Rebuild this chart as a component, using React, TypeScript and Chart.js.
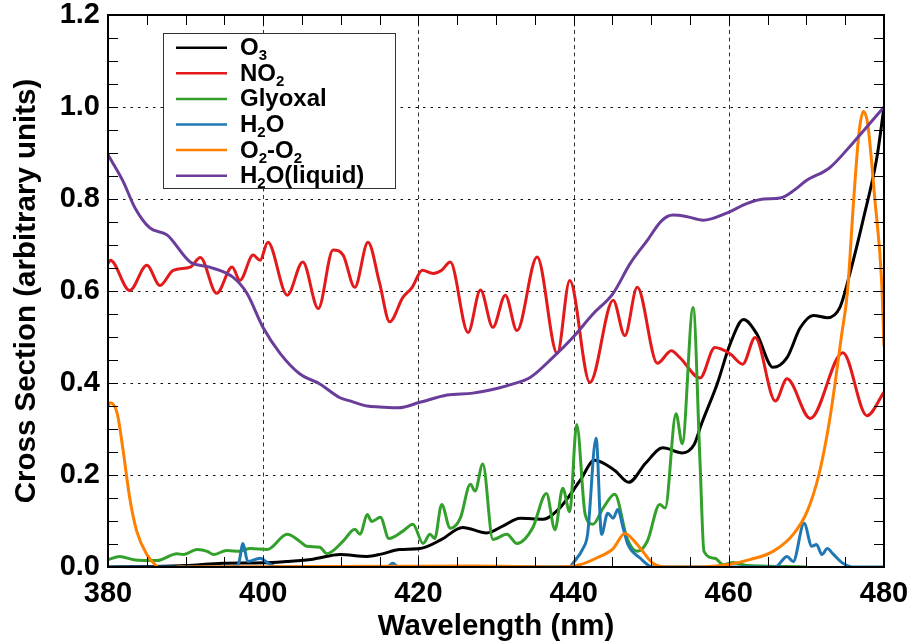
import React, { useEffect, useRef } from 'react';
import { Chart, registerables } from 'chart.js';

Chart.register(...registerables);

// ---------- data ----------
const xTicks = [380, 400, 420, 440, 460, 480];
const yTicks = [0, 0.2, 0.4, 0.6, 0.8, 1.0, 1.2];

const o3Wl = [380, 385, 390, 394.8, 400, 403, 406.4, 409.9, 413.4, 415.2, 417.6, 420.2, 423, 425.7, 428.8, 431, 433.1, 436.1, 438.2, 440.8, 442.7, 445.3, 447.1, 449.3, 451.5, 454.0, 455.5, 456.5, 458.5, 460.2, 461.9, 463.6, 465.7, 467.5, 469.2, 470.9, 472.7, 474.3, 475.6, 477.3, 479.1, 480];
const o3Val = [0.0, 0.001, 0.003, 0.008, 0.009, 0.012, 0.017, 0.027, 0.023, 0.028, 0.038, 0.04, 0.06, 0.086, 0.074, 0.09, 0.106, 0.104, 0.128, 0.187, 0.232, 0.21, 0.184, 0.226, 0.259, 0.248, 0.265, 0.312, 0.398, 0.486, 0.538, 0.507, 0.434, 0.455, 0.52, 0.547, 0.542, 0.564, 0.638, 0.754, 0.892, 1.0];

const no2Wl = [380, 380.3, 382.8, 385, 386.7, 388.4, 390.6, 391.9, 394, 396, 397, 398.7, 399.6, 400.6, 403.1, 405.1, 407.1, 409, 410.3, 411.8, 413.5, 415, 416.3, 418, 419.2, 420.5, 421.9, 423, 424.1, 426.4, 428, 429.6, 431.2, 432.7, 435.3, 437.9, 439.5, 442.1, 445.1, 446.6, 448.2, 450.8, 452.6, 453.7, 456.3, 458.2, 460.2, 461.8, 463.4, 466, 467.5, 470.5, 474.7, 477.8, 480];
const no2Val = [0.66, 0.667, 0.601, 0.656, 0.612, 0.645, 0.652, 0.673, 0.595, 0.652, 0.623, 0.678, 0.667, 0.706, 0.591, 0.663, 0.562, 0.689, 0.678, 0.608, 0.706, 0.617, 0.533, 0.586, 0.608, 0.645, 0.638, 0.645, 0.663, 0.51, 0.602, 0.521, 0.591, 0.514, 0.674, 0.464, 0.623, 0.401, 0.58, 0.503, 0.608, 0.443, 0.47, 0.455, 0.411, 0.477, 0.463, 0.441, 0.499, 0.361, 0.409, 0.323, 0.466, 0.329, 0.38];

const glyWl = [380, 381.5, 383.3, 386.3, 388.9, 389.7, 391.5, 392.8, 393.6, 395.3, 397, 398.3, 400.5, 403.1, 404.7, 405.6, 407.3, 408.2, 410.3, 411.8, 412.5, 413.4, 414, 415.1, 416.2, 418, 419.3, 420.6, 421.5, 422.1, 423, 424.1, 425.4, 426.7, 427.3, 428.3, 429.6, 431.4, 432.7, 434.7, 436.5, 437.6, 438.6, 439.5, 440.4, 441.5, 442.5, 443.8, 445.3, 446.9, 448.2, 449.5, 451.1, 451.8, 453.2, 454.0, 455.4, 456.3, 456.8, 458.2, 459.3, 460.5, 462.3, 467.5, 470];
const glyVal = [0.016, 0.023, 0.016, 0.014, 0.029, 0.027, 0.038, 0.034, 0.027, 0.036, 0.034, 0.04, 0.038, 0.071, 0.056, 0.045, 0.043, 0.029, 0.056, 0.082, 0.071, 0.114, 0.099, 0.108, 0.062, 0.078, 0.093, 0.051, 0.071, 0.062, 0.136, 0.084, 0.106, 0.18, 0.165, 0.224, 0.06, 0.071, 0.051, 0.084, 0.16, 0.081, 0.171, 0.12, 0.31, 0.114, 0.093, 0.128, 0.158, 0.062, 0.034, 0.056, 0.136, 0.128, 0.333, 0.268, 0.564, 0.224, 0.034, 0.019, 0.005, 0.01, 0.003, 0.001, 0.0];

const h2oWl = [380, 396, 396.8, 397.4, 398, 399.6, 400.9, 402, 416, 416.7, 417.4, 439.5, 439.9, 441.2, 441.8, 442.9, 443.6, 444.4, 445.1, 445.7, 446.4, 447, 448.6, 450.2, 466, 467.5, 468.3, 469.7, 470.7, 471.3, 472, 472.7, 473.4, 474.7, 476, 480];
const h2oVal = [0.0, 0.0, 0.006, 0.051, 0.012, 0.019, 0.005, 0.0, 0.0, 0.008, 0.0, 0.0, 0.008, 0.04, 0.071, 0.28, 0.071, 0.117, 0.106, 0.125, 0.084, 0.049, 0.019, 0.0, 0.0, 0.023, 0.012, 0.095, 0.045, 0.049, 0.027, 0.04, 0.029, 0.008, 0.0, 0.0];

const o2o2Wl = [380, 380.3, 381.2, 381.9, 382.8, 383.7, 385, 386.4, 387.6, 389, 427, 438, 440.8, 442.9, 445.1, 446.6, 448.2, 450.2, 452, 455, 459.8, 462.7, 465.7, 468.3, 470.1, 471.6, 472.9, 473.7, 474.5, 475.3, 476.1, 476.8, 477.35, 477.9, 478.8, 479.7, 480];
const o2o2Val = [0.35, 0.357, 0.333, 0.259, 0.15, 0.078, 0.027, 0.0, -0.012, 0.0, 0.002, 0.0, 0.005, 0.019, 0.04, 0.073, 0.049, 0.008, 0.0, 0.0, 0.005, 0.016, 0.034, 0.071, 0.121, 0.2, 0.31, 0.4, 0.5, 0.6, 0.8, 0.947, 0.99, 0.963, 0.803, 0.62, 0.48];

const liqWl = [380, 381.9, 383.5, 385.4, 387.6, 390.6, 393.1, 396.1, 397.9, 400, 402.2, 404.7, 407.3, 409.9, 411.2, 413.4, 415, 417.4, 420.2, 423.7, 427, 430.1, 432.2, 434.4, 437.3, 439.9, 442.5, 445.1, 447.3, 449.5, 451.3, 452.8, 454.5, 456.7, 459.8, 462.3, 464.5, 466.6, 468.5, 470, 473, 476, 480];
const liqVal = [0.896, 0.84, 0.78, 0.737, 0.722, 0.663, 0.652, 0.63, 0.595, 0.52, 0.464, 0.42, 0.398, 0.368, 0.361, 0.35, 0.348, 0.346, 0.358, 0.374, 0.378, 0.388, 0.398, 0.412, 0.455, 0.499, 0.55, 0.595, 0.66, 0.71, 0.752, 0.765, 0.762, 0.754, 0.77, 0.79, 0.8, 0.802, 0.82, 0.84, 0.868, 0.922, 1.0];

const seriesLabels = ['O₃', 'NO₂', 'Glyoxal', 'H₂O', 'O₂-O₂', 'H₂O(liquid)'];
const seriesColors = ['#000000', '#e31a1c', '#33a02c', '#1f78b4', '#ff7f00', '#6a3d9a'];
const seriesWl = [o3Wl, no2Wl, glyWl, h2oWl, o2o2Wl, liqWl];
const seriesVal = [o3Val, no2Val, glyVal, h2oVal, o2o2Val, liqVal];

const FONT = '"Liberation Sans", Arial, Helvetica, sans-serif';
const SUBS: Record<string, string> = { '₀': '0', '₁': '1', '₂': '2', '₃': '3', '₄': '4' };

function drawRichLabel(ctx: CanvasRenderingContext2D, text: string, x: number, y: number) {
  const runs: { t: string; sub: boolean }[] = [];
  for (const ch of Array.from(text)) {
    const isSub = ch in SUBS;
    const c = isSub ? SUBS[ch] : ch;
    const last = runs[runs.length - 1];
    if (last && last.sub === isSub) last.t += c;
    else runs.push({ t: c, sub: isSub });
  }
  let cx = x;
  for (const r of runs) {
    ctx.font = r.sub ? `bold 15px ${FONT}` : `bold 24px ${FONT}`;
    ctx.fillText(r.t, cx, r.sub ? y + 5 : y);
    cx += ctx.measureText(r.t).width;
  }
}

const framePlugin = {
  id: 'framePlugin',
  beforeDatasetsDraw(chart: any) {
    const { ctx, chartArea: a, scales } = chart;
    const xs = scales.x;
    const ys = scales.y;
    ctx.save();
    ctx.strokeStyle = '#111';
    ctx.lineWidth = 1;
    ctx.setLineDash([2.5, 5]);
    for (const v of yTicks) {
      if (v <= 0 || v >= 1.2) continue;
      const py = Math.round(ys.getPixelForValue(v)) + 0.5;
      ctx.beginPath();
      ctx.moveTo(a.left, py);
      ctx.lineTo(a.right, py);
      ctx.stroke();
    }
    ctx.setLineDash([4, 3.5]);
    ctx.strokeStyle = '#333';
    for (const v of xTicks) {
      if (v <= 380 || v >= 480) continue;
      const px = Math.round(xs.getPixelForValue(v)) + 0.5;
      ctx.beginPath();
      ctx.moveTo(px, a.top);
      ctx.lineTo(px, a.bottom);
      ctx.stroke();
    }
    ctx.restore();
  },
  afterDatasetsDraw(chart: any) {
    const { ctx, chartArea: a, scales } = chart;
    const xs = scales.x;
    const ys = scales.y;
    ctx.save();
    ctx.setLineDash([]);
    ctx.strokeStyle = '#000';
    ctx.lineWidth = 1;
    const tl = 10;
    for (let v = 380; v <= 480; v += 5) {
      const px = Math.round(xs.getPixelForValue(v)) + 0.5;
      ctx.beginPath();
      ctx.moveTo(px, a.bottom);
      ctx.lineTo(px, a.bottom - tl);
      ctx.moveTo(px, a.top);
      ctx.lineTo(px, a.top + tl);
      ctx.stroke();
    }
    for (let i = 0; i <= 24; i++) {
      const v = i * 0.05;
      const py = Math.round(ys.getPixelForValue(v)) + 0.5;
      ctx.beginPath();
      ctx.moveTo(a.left, py);
      ctx.lineTo(a.left + tl, py);
      ctx.moveTo(a.right, py);
      ctx.lineTo(a.right - tl, py);
      ctx.stroke();
    }
    ctx.lineWidth = 2;
    ctx.strokeRect(a.left, a.top, a.right - a.left, a.bottom - a.top);

    // legend
    const bx = 163.5, by = 33.5, bw = 232, bh = 155;
    ctx.fillStyle = '#fff';
    ctx.fillRect(bx, by, bw, bh);
    ctx.lineWidth = 1;
    ctx.strokeStyle = '#333';
    ctx.strokeRect(bx, by, bw, bh);
    const ds = chart.data.datasets;
    ds.forEach((d: any, i: number) => {
      const ly = 47.7 + i * 25.6;
      ctx.strokeStyle = d.borderColor;
      ctx.lineWidth = 2.5;
      ctx.beginPath();
      ctx.moveTo(176, ly);
      ctx.lineTo(227, ly);
      ctx.stroke();
      ctx.fillStyle = '#000';
      ctx.textBaseline = 'alphabetic';
      ctx.textAlign = 'left';
      drawRichLabel(ctx, d.label, 240, ly + 7.5);
    });
    ctx.restore();
  },
};

export default function App() {
  const ref = useRef<HTMLCanvasElement | null>(null);

  useEffect(() => {
    if (!ref.current) return;
    const datasets = seriesLabels.map((label, i) => ({
      label,
      data: seriesWl[i].map((x, j) => ({ x, y: seriesVal[i][j] })),
      borderColor: seriesColors[i],
      backgroundColor: seriesColors[i],
      borderWidth: 3,
      pointRadius: 0,
      fill: false,
      cubicInterpolationMode: 'monotone' as const,
      order: seriesLabels.length - i,
    }));

    const chart = new Chart(ref.current, {
      type: 'line',
      data: { datasets },
      options: {
        animation: false,
        responsive: false,
        maintainAspectRatio: false,
        layout: { padding: { top: 15, right: 25, left: 0, bottom: 0 } },
        plugins: {
          legend: { display: false },
          tooltip: { enabled: false },
        },
        scales: {
          x: {
            type: 'linear',
            min: 380,
            max: 480,
            grid: { display: false, drawTicks: false },
            border: { display: false },
            afterBuildTicks: (s: any) => {
              s.ticks = xTicks.map((v) => ({ value: v }));
            },
            afterFit: (s: any) => {
              s.height = 76;
              s.paddingLeft = 0;
              s.paddingRight = 0;
            },
            ticks: {
              color: '#000',
              padding: 10,
              maxRotation: 0,
              autoSkip: false,
              font: { family: FONT, size: 29, weight: 'bold' },
            },
            title: {
              display: true,
              text: 'Wavelength (nm)',
              color: '#000',
              font: { family: FONT, size: 29.5, weight: 'bold' },
              padding: { top: 0, bottom: -2 },
            },
          },
          y: {
            type: 'linear',
            min: 0,
            max: 1.2,
            grid: { display: false, drawTicks: false },
            border: { display: false },
            afterBuildTicks: (s: any) => {
              s.ticks = yTicks.map((v) => ({ value: v }));
            },
            afterFit: (s: any) => {
              s.width = 108;
              s.paddingTop = 0;
              s.paddingBottom = 0;
            },
            ticks: {
              color: '#000',
              padding: 8,
              autoSkip: false,
              callback: (v: any) => Number(v).toFixed(1),
              font: { family: FONT, size: 29, weight: 'bold' },
            },
            title: {
              display: true,
              text: 'Cross Section (arbitrary units)',
              color: '#000',
              font: { family: FONT, size: 29.5, weight: 'bold' },
              padding: { top: 9, bottom: 0 },
            },
          },
        },
      },
      plugins: [framePlugin],
    });
    return () => chart.destroy();
  }, []);

  return (
    <div style={{ position: 'fixed', left: 0, top: 0, width: 909, height: 643, background: '#fff' }}>
      <canvas ref={ref} width={909} height={643} style={{ display: 'block' }} />
    </div>
  );
}
